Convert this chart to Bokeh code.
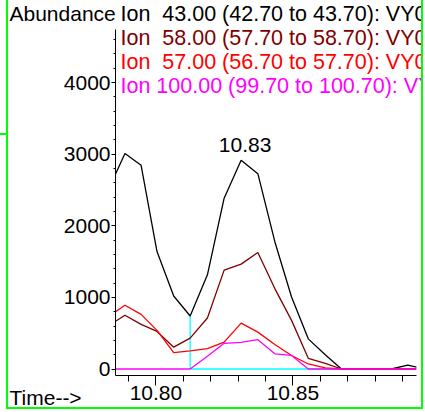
from bokeh.plotting import figure
from bokeh.models import Range1d, FixedTicker, Label, InlineStyleSheet
from bokeh.embed import file_html
from bokeh.resources import INLINE

# ---- data ----
scan_times = [10.7826, 10.7887, 10.7946, 10.8004, 10.8065, 10.8125, 10.8188, 10.8249,
              10.8311, 10.8372, 10.8434, 10.8495, 10.8556, 10.8618, 10.8677, 10.8737,
              10.8798, 10.8859, 10.8919, 10.8980]
ion43 = [2500, 3010, 2845, 1640, 1020, 740, 1315, 2386, 2915, 2728, 1778, 1006, 421, 200,
         0, 0, 0, 0, 55, 0]
ion58 = [600, 750, 623, 525, 305, 431, 712, 1381, 1465, 1628, 1123, 679, 150, 78,
         0, 0, 0, 0, 0, 0]
ion57 = [730, 890, 763, 539, 230, 253, 284, 375, 641, 515, 342, 188, 70, 15,
         0, 0, 0, 0, 0, 0]
ion100 = [0, 0, 0, 0, 0, 0, 177, 359, 373, 410, 212, 189, 0, 0,
          0, 0, 0, 0, 0, 0]
baseline_times = [10.8125, 10.8125, 10.8677]
baseline_levels = [740, 0, 0]

series_labels = ["Ion \u00a043.00 (42.70 to 43.70): VY0",
                 "Ion \u00a058.00 (57.70 to 58.70): VY0",
                 "Ion \u00a057.00 (56.70 to 57.70): VY0",
                 "Ion 100.00 (99.70 to 100.70): VY0"]
series_colors = ["#000000", "#800000", "#ff0000", "#ff00ff"]
y_ticks = [0, 1000, 2000, 3000, 4000]
y_minor = [v for v in range(200, 4800, 200)]
x_ticks = [10.80, 10.85]
x_tick_labels = ["10.80", "10.85"]
x_minor = [10.79, 10.81, 10.82, 10.83, 10.84, 10.86, 10.87, 10.88, 10.89]

# visible axis extents and whole-canvas ranges
X_LO, X_HI = 10.78526, 10.89506
Y_LO, Y_HI = -88.4, 4737
X_START, X_END = 10.74621, 10.89838
Y_START, Y_END = -565.6, 5146.7

FONT = "Liberation Sans"
FS = "21px"
FS_HEAD = "21.5px"

stub = InlineStyleSheet(css=":host::before { content: ''; position: absolute; left: -8px; "
                            "top: 133px; width: 6px; height: 2px; background: #00ff00; }")

p = figure(width=417, height=409, output_backend="svg", toolbar_location=None,
           x_range=Range1d(X_START, X_END), y_range=Range1d(Y_START, Y_END),
           min_border_left=0, min_border_right=0, min_border_top=0,
           min_border_bottom=0, stylesheets=[stub])
p.styles = {"border-left": "2px solid #00ff00", "border-right": "2px solid #00ff00",
            "border-bottom": "2px solid #00ff00", "margin-left": "6px",
            "margin-top": "0px"}
p.outline_line_color = None
p.xgrid.visible = False
p.ygrid.visible = False
p.background_fill_color = "white"
p.border_fill_color = "white"

xa = p.xaxis[0]
xa.fixed_location = Y_LO
xa.bounds = (X_LO, X_HI)
xa.ticker = FixedTicker(ticks=x_ticks, minor_ticks=x_minor)
xa.major_label_overrides = {t: s for t, s in zip(x_ticks, x_tick_labels)}
xa.major_tick_out = 10
xa.major_tick_in = 0
xa.minor_tick_out = 6
xa.minor_tick_in = 0
xa.major_label_standoff = 1
xa.major_label_text_font = FONT
xa.major_label_text_font_size = FS
xa.major_label_text_color = "black"
xa.axis_line_color = "black"

ya = p.yaxis[0]
ya.fixed_location = X_LO
ya.bounds = (Y_LO, Y_HI)
ya.ticker = FixedTicker(ticks=y_ticks, minor_ticks=y_minor)
ya.major_tick_out = 4
ya.major_tick_in = 0
ya.minor_tick_out = 2
ya.minor_tick_in = 0
ya.major_label_standoff = 1
ya.major_label_text_font = FONT
ya.major_label_text_font_size = FS
ya.major_label_text_color = "black"
ya.axis_line_color = "black"

# integration baseline
p.line(baseline_times, baseline_levels, color="#00ffff", line_width=1.3)

for vals, col in zip([ion43, ion58, ion57, ion100], series_colors):
    p.line(scan_times, vals, color=col, line_width=1.3)

# keep the traces inside the axis box (white masks outside it)
p.quad(left=[X_START, X_HI, X_LO, X_LO], right=[X_LO, X_END, X_HI, X_HI],
       bottom=[Y_START, Y_START, Y_HI, Y_START], top=[Y_END, Y_END, Y_END, Y_LO],
       fill_color="white", line_color=None)

# peak annotation
pk = max(range(6, 14), key=lambda i: ion43[i])
p.add_layout(Label(x=scan_times[pk], y=ion43[pk], text=f"{scan_times[pk]:.2f}",
                   text_align="center", text_baseline="alphabetic", x_offset=4,
                   y_offset=15, text_font=FONT, text_font_size=FS,
                   text_color="black"))

# header texts (screen units from the bottom-left of the canvas)
p.add_layout(Label(x=1, y=396, x_units="screen", y_units="screen", text="Abundance",
                   text_font=FONT, text_font_size=FS, text_color="black",
                   text_baseline="alphabetic"))
row_y = [396, 371.7, 347.7, 323.3]
for txt, col, yy in zip(series_labels, series_colors, row_y):
    p.add_layout(Label(x=112, y=yy, x_units="screen", y_units="screen", text=txt,
                       text_font=FONT, text_font_size=FS_HEAD, text_color=col,
                       text_baseline="alphabetic"))
p.add_layout(Label(x=1, y=12, x_units="screen", y_units="screen", text="Time-->",
                   text_font=FONT, text_font_size=FS, text_color="black",
                   text_baseline="alphabetic"))

open("out.html", "w").write(file_html(p, INLINE))
